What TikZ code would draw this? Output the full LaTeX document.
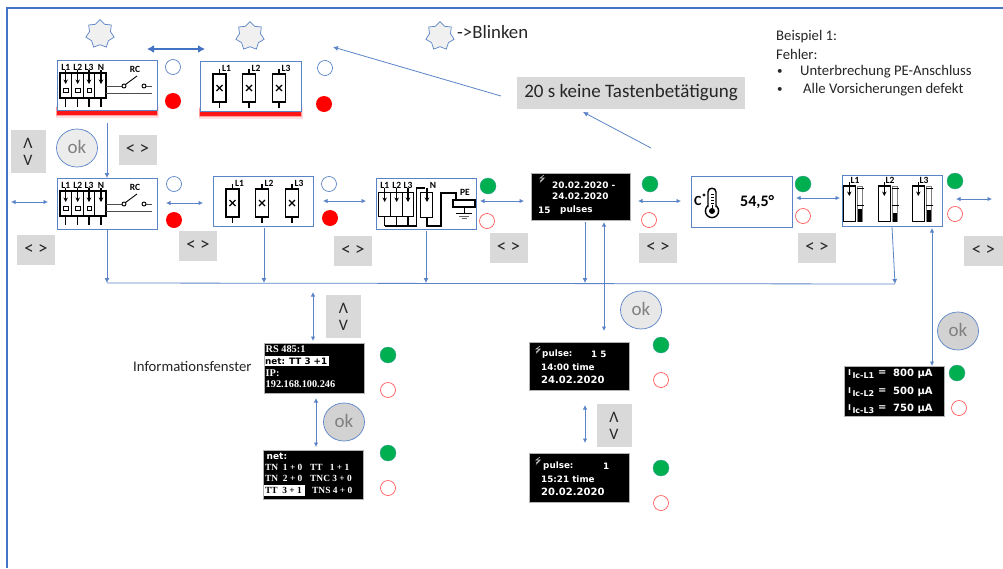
\documentclass[tikz,border=0pt]{standalone}
\usepackage{fontspec}
\setmainfont{Carlito}
\newfontfamily\dv{DejaVu Sans}
\newfontfamily\lib{Liberation Serif}
\usetikzlibrary{arrows.meta,shapes.geometric}
\definecolor{bl}{HTML}{5B84C8}
\definecolor{bld}{HTML}{4472C4}
\definecolor{gr}{HTML}{D9D9D9}
\definecolor{grn}{HTML}{00B050}
\definecolor{rd}{HTML}{FF0000}
\definecolor{ord}{HTML}{FF5B5B}
\definecolor{txt}{HTML}{262626}
\tikzset{
 panel/.style={draw=bl,line width=.8pt,fill=white,minimum width=100pt,minimum height=50pt,inner sep=0,outer sep=0},
 blackp/.style={fill=black,draw=gray!60,line width=.4pt,minimum width=100pt,minimum height=48pt,inner sep=0,outer sep=0},
 lrbox/.style={fill=gr,minimum width=38pt,minimum height=30pt,inner sep=0,font=\fontsize{19}{19}\selectfont,text=txt},
 udbox/.style={fill=gr,minimum width=35pt,minimum height=43pt,inner sep=0,align=center,font=\fontsize{16}{17}\selectfont,text=txt},
 okb/.style={ellipse,draw=bl,line width=.7pt,minimum width=41pt,minimum height=38pt,inner sep=0,text=gray,font=\fontsize{19}{19}\selectfont},
 ledopen/.style={circle,draw=bl,line width=.7pt,fill=white,minimum size=15pt,inner sep=0},
 ledred/.style={circle,fill=rd,minimum size=16pt,inner sep=0},
 ledgreen/.style={circle,fill=grn,draw=bl!60!grn,line width=.3pt,minimum size=16pt,inner sep=0},
 ledoff/.style={circle,draw=ord,line width=.7pt,fill=white,minimum size=15pt,inner sep=0},
 stern/.style={star,star points=7,star point ratio=1.35,draw=bl,line width=.7pt,fill=gray!12,minimum size=29pt,inner sep=0},
 dbl/.style={{Latex[length=4.5pt,width=4.5pt]}-{Latex[length=4.5pt,width=4.5pt]},draw=bl,line width=.8pt},
 one/.style={-{Latex[length=5pt,width=5pt]},draw=bl,line width=.8pt},
 thick2/.style={{Latex[length=7pt,width=8pt]}-{Latex[length=7pt,width=8pt]},draw=bld,line width=2.2pt},
 sym/.style={draw=black,line width=1.25pt},
 lab/.style={inner sep=0,font=\fontsize{9.5}{9.5}\selectfont\bfseries,text=black},
 tw/.style={inner sep=0,anchor=west,text=white},
 bodytext/.style={inner sep=0,anchor=west,text=txt,font=\fontsize{14.7}{14.7}\selectfont},
}
\newcommand{\arrdn}[3]{\draw[sym,-{Stealth[length=4.5pt,width=4.5pt]}] (#1,#2) -- (#1,#3);}
\newcommand{\rcsym}{%
 \draw[sym] (3,13) rectangle (49,38);
 \draw[sym] (14.6,13) -- (14.6,38) (26.6,13) -- (26.6,38) (37.6,13) -- (37.6,38);
 \foreach \x in {8.7,20.7,32}{\arrdn{\x}{10}{24}
  \draw[draw=black,line width=.5pt] (\x-2.2,28) rectangle (\x+2.2,32);
  \draw[sym] (\x,38) -- (\x,47);}
 \arrdn{44}{10}{24}\draw[sym] (44,38) -- (44,47);
 \node[lab] (a) at (8.7,7) {L1};\node[lab] (b) at (20.7,7) {L2};\node[lab] (c) at (32,7) {L3};\node[lab] (d) at (44,7) {N};
 \node[lab] (e) at (78,9) {RC};
 \draw[draw=black!70,line width=.8pt] (49,26) -- (65,26) (49,33) -- (95,33) (89,26) -- (95,26);
 \draw[draw=black,line width=.9pt] (67,26) circle (2) (87,26) circle (2) (68.5,24.5) -- (80,16);
}
\newcommand{\fusesym}{%
 \foreach \x/\l in {19.5/L1,49/L2,79/L3}{
  \draw[sym] (\x-6.5,13) rectangle (\x+6.5,41);
  \draw[sym] (\x,8) -- (\x,13) (\x,41) -- (\x,47);
  \draw[sym] (\x-3,24) -- (\x+3,30) (\x+3,24) -- (\x-3,30);
  \node[lab] (n\l) at (\x+7,7) {\l};}
}
\newcommand{\tl}[5][]{\node[tw,#1] (#2) at (#3,#4) {#5};}
\newcommand{\bolt}[2]{\draw[draw=white!75!black,line width=.6pt] (#1+3,#2) -- (#1-1,#2+3) -- (#1+3,#2+3) -- (#1-1,#2+6) (#1+3,#2+3.5) -- (#1-1,#2+7.5);}
\newcommand{\redglow}[4]{%
 \fill[rd,opacity=.12] (#1-1.5,#3-4) rectangle (#2+1.5,#4+2.5);
 \fill[rd,opacity=.3] (#1-.8,#3-3) rectangle (#2+.8,#4+1);
 \fill[rd,opacity=.85] (#1,#3) rectangle (#2,#4);}
\begin{document}
\begin{tikzpicture}[x=1pt,y=-1pt]
\useasboundingbox (0,0) rectangle (1003,568);
\fill[white] (0,0) rectangle (1003,568);
\coordinate (fa) at (7,568);\coordinate (fb) at (7,8);\coordinate (fc) at (1003,8);
\draw[draw=bld,line width=1.5pt] (fa) -- (fb) -- (fc);
\node[stern] (s1) at (100,34) {};
\node[stern] (s2) at (250,36) {};
\node[stern] (s3) at (440,36) {};
\node[inner sep=0,anchor=west,text=txt,font=\fontsize{18.8}{18.8}\selectfont] (bl) at (457,32) {->Blinken};
\node[bodytext] (e1) at (776,37) {Beispiel 1:};
\node[bodytext] (e2) at (776,54) {Fehler:};
\node[bodytext,font=\fontsize{11}{11}\selectfont] (e3) at (777,72) {•};
\node[bodytext] (e4) at (800,72) {Unterbrechung PE-Anschluss};
\node[bodytext,font=\fontsize{11}{11}\selectfont] (e5) at (777,90) {•};
\node[bodytext] (e6) at (803,90) {Alle Vorsicherungen defekt};
\node[fill=gr,minimum width=228pt,minimum height=32pt,inner sep=0,text=txt,font=\fontsize{19}{19}\selectfont] (tb) at (631,93) {20 s keine Tastenbetätigung};
\redglow{57}{157}{110}{115}
\redglow{200}{301}{111}{116}
\node[panel] (rct) at (107,85) {};
\node[panel,minimum width=101pt] (fut) at (250.5,86) {};
\begin{scope}[shift={(57,60)}]\rcsym\end{scope}
\begin{scope}[shift={(200,61)}]\fusesym\end{scope}
\node[panel,minimum height=51pt] (rc2) at (107,203.5) {};
\node[panel] (fu2) at (263,201) {};
\node[panel,minimum height=51pt] (pe2) at (426,203.5) {};
\node[blackp,minimum width=99pt,minimum height=47pt] (pu2) at (580.5,196.5) {};
\node[panel,minimum width=101pt,minimum height=51pt] (te2) at (741.5,201.5) {};
\node[panel,minimum height=51pt] (ic2) at (892,200.5) {};
\begin{scope}[shift={(57,178)}]\rcsym\end{scope}
\begin{scope}[shift={(213,176)}]\fusesym\end{scope}
\begin{scope}[shift={(376,178)}]
 \draw[sym] (2.5,14.7) rectangle (37.5,38.5);
 \draw[sym] (14.7,14.7) -- (14.7,38.5) (26.3,14.7) -- (26.3,38.5);
 \foreach \x in {8.7,20.7,32}{\arrdn{\x}{10}{24}\draw[sym] (\x,38.5) -- (\x,48);}
 \draw[sym] (8.7,48) -- (40.7,48) -- (40.7,10) -- (49,10);
 \draw[sym] (44.7,14.7) rectangle (56.7,39.3);
 \arrdn{51}{10}{24}
 \draw[sym] (51,39.3) -- (51,48) -- (65,48) -- (65,15) -- (80,15) -- (80,22);
 \draw[sym] (77,22) rectangle (99,29);
 \draw[draw=black,line width=.8pt] (88,29) -- (88,35) (80,35) -- (96,35);
 \draw[draw=black!60,line width=.6pt] (83,38) -- (93,38) (85.5,40.5) -- (90.5,40.5);
 \node[lab] (p1) at (8.7,7) {L1};\node[lab] (p2) at (20.7,7) {L2};\node[lab] (p3) at (32,7) {L3};\node[lab] (p4) at (57,7) {N};\node[lab] (p5) at (89,14) {PE};
\end{scope}
\bolt{541}{175}
\tl{q1}{552}{185}{\dv\bfseries\fontsize{8.9}{9}\selectfont 20.02.2020 -}
\tl{q2}{552}{196}{\dv\bfseries\fontsize{8.9}{9}\selectfont 24.02.2020}
\tl{q3}{538}{210}{\dv\bfseries\fontsize{8.9}{9}\selectfont 15}
\tl{q4}{560}{210}{\dv\bfseries\fontsize{8.9}{9}\selectfont pulses}
\node[inner sep=0,anchor=west,text=black,font=\fontsize{14}{14}\selectfont\bfseries] (c1) at (694,201) {C};
\draw[draw=black,line width=.7pt] (704,195) circle (1.2);
\draw[draw=black,line width=1.4pt,fill=white] (712,211) circle (6.6);
\draw[draw=black,line width=1.4pt,fill=white] (708,207) -- (708,192) .. controls (708,187) and (716,187) .. (716,192) -- (716,207);
\fill[white] (709,204) rectangle (715,209);
\draw[draw=black,line width=.5pt] (711,194) -- (713.5,194) (711,197) -- (713.5,197) (711,200) -- (713.5,200) (711,203) -- (713.5,203) (712,205) -- (712,210);
\fill[black] (712,211) circle (3);
\node[inner sep=0,anchor=west,text=black,font=\fontsize{16}{16}\selectfont\bfseries] (c2) at (740,202) {54,5°};
\foreach \o/\f/\l in {0/209/L1,35/213/L2,69/210/L3}{
 \draw[sym] (843.5+\o,186) rectangle (855.5+\o,221.7);
 \arrdn{849.3+\o}{182}{196}
 \draw[draw=gray,line width=.5pt] (857.5+\o,186) rectangle (862.3+\o,221.7);
 \fill[black] (857.5+\o,\f) rectangle (862.3+\o,221.7);
 \draw[draw=black,line width=.5pt] (857+\o,205) -- (864+\o,205) (857+\o,188) -- (864+\o,188);
 \node[lab] (k\l) at (855+\o,180.7) {\l};
}
\node[lrbox] (lr1) at (137.5,150) {< >};
\node[lrbox] (lr2) at (36,250) {< >};
\node[lrbox] (lr3) at (198,245.5) {< >};
\node[lrbox] (lr4) at (353,250.5) {< >};
\node[lrbox] (lr5) at (508.5,248) {< >};
\node[lrbox] (lr6) at (658,248) {< >};
\node[lrbox] (lr7) at (817,247.5) {< >};
\node[lrbox,minimum width=39pt] (lr8) at (983.5,250.5) {< >};
\node[udbox] (ud1) at (28,151.5) {Λ\\V};
\node[udbox] (ud2) at (343.5,316.5) {Λ\\V};
\node[udbox] (ud3) at (614,425.5) {Λ\\V};
\node[okb,fill=gray!15] (ok1) at (77,148) {\raisebox{2pt}{ok}};
\node[okb,fill=gray!35] (ok2) at (344,422) {\raisebox{2pt}{ok}};
\node[okb,fill=gray!18] (ok3) at (641,310) {\raisebox{2pt}{ok}};
\node[okb,fill=gray!35] (ok4) at (958,331) {\raisebox{2pt}{ok}};
\node[ledopen] (l1) at (173,67) {};\node[ledred] (l2) at (173,101) {};
\node[ledopen] (l3) at (325,68) {};\node[ledred] (l4) at (324,104) {};
\node[ledopen] (l5) at (174,184) {};\node[ledred] (l6) at (174,220) {};
\node[ledopen] (l7) at (329,184) {};\node[ledred] (l8) at (330,218) {};
\node[ledgreen] (l9) at (488,186) {};\node[ledoff] (l10) at (487,221) {};
\node[ledgreen] (l11) at (650,184) {};\node[ledoff] (l12) at (649,220) {};
\node[ledgreen] (l13) at (803,184) {};\node[ledoff] (l14) at (803,216) {};
\node[ledgreen] (l15) at (955,181) {};\node[ledoff] (l16) at (955,214) {};
\node[ledgreen] (l17) at (388,355) {};\node[ledoff] (l18) at (388,390) {};
\node[ledgreen] (l19) at (388,453) {};\node[ledoff] (l20) at (388,488) {};
\node[ledgreen] (l21) at (661,345) {};\node[ledoff] (l22) at (661,380) {};
\node[ledgreen] (l23) at (661,468) {};\node[ledoff] (l24) at (661,503) {};
\node[ledgreen] (l25) at (957,373) {};\node[ledoff] (l26) at (959,408) {};
\node[bodytext] (inf) at (133,366) {Informationsfenster};
\node[blackp,minimum height=50pt] (i1) at (314,368) {};
\fill[white] (264.5,356) rectangle (329,365.5);
\tl{i1a}{265.5}{349}{\lib\bfseries\fontsize{10.3}{10}\selectfont RS 485:1}
\node[inner sep=0,anchor=west,text=black] (i1b) at (265,361) {\dv\bfseries\fontsize{8.8}{9}\selectfont net: TT 3 +1};
\tl{i1c}{265.5}{373}{\lib\bfseries\fontsize{10.3}{10}\selectfont IP:}
\tl{i1d}{265.5}{384.5}{\lib\bfseries\fontsize{10.3}{10}\selectfont 192.168.100.246}
\node[blackp,minimum height=49pt] (i2) at (313,474.5) {};
\fill[white] (264,485) rectangle (305,496);
\tl{i2a}{266.5}{456}{\dv\bfseries\fontsize{9}{9}\selectfont net:}
\tl{i2b}{265}{467.5}{\lib\bfseries\fontsize{9.4}{9}\selectfont TN\ \ 1 + 0}
\tl{i2c}{310}{467.5}{\lib\bfseries\fontsize{9.4}{9}\selectfont TT\ \ \ 1 + 1}
\tl{i2d}{265}{478.5}{\lib\bfseries\fontsize{9.4}{9}\selectfont TN\ \ 2 + 0}
\tl{i2e}{310}{478.5}{\lib\bfseries\fontsize{9.4}{9}\selectfont TNC 3 + 0}
\node[inner sep=0,anchor=west,text=black] (i2f) at (265,490) {\lib\bfseries\fontsize{9.4}{9}\selectfont TT\ \ 3 + 1};
\tl{i2g}{312}{490}{\lib\bfseries\fontsize{9.4}{9}\selectfont TNS 4 + 0}
\node[blackp,minimum height=48pt] (d1) at (579,366) {};
\bolt{537}{346}
\tl{d1a}{542}{354}{\dv\bfseries\fontsize{8.8}{9}\selectfont pulse:}
\tl{d1b}{591}{354}{\dv\bfseries\fontsize{8.8}{9}\selectfont 1 5}
\tl{d1c}{541}{367}{\dv\bfseries\fontsize{8.8}{9}\selectfont 14:00 time}
\tl{d1d}{541}{380}{\dv\bfseries\fontsize{10}{10}\selectfont 24.02.2020}
\node[blackp,minimum height=49pt] (d2) at (579,477.5) {};
\bolt{537}{457}
\tl{d2a}{543}{466}{\dv\bfseries\fontsize{8.8}{9}\selectfont pulse:}
\tl{d2b}{603}{466}{\dv\bfseries\fontsize{8.8}{9}\selectfont 1}
\tl{d2c}{541}{479}{\dv\bfseries\fontsize{8.8}{9}\selectfont 15:21 time}
\tl{d2d}{541}{492}{\dv\bfseries\fontsize{10}{10}\selectfont 20.02.2020}
\node[blackp,minimum height=50pt] (d3) at (894,391) {};
\foreach \n/\y/\t/\v in {a/374/1/800,b/392/2/500,c/409/3/750}{
 \tl{d3\n}{848}{\y}{\dv\bfseries\fontsize{8}{8}\selectfont I\raisebox{-3pt}{\,Ic-L\t}}
 \tl{d3e\n}{878}{\y-1}{\dv\bfseries\fontsize{10}{10}\selectfont =}
 \tl{d3f\n}{893}{\y}{\dv\bfseries\fontsize{10}{10}\selectfont \v\ µA}
}
\coordinate (ta) at (147,49);\coordinate (tbb) at (205,49);
\draw[thick2] (ta) -- (tbb);
\coordinate (tin) at (333,47);\coordinate (tstart) at (501,96);
\draw[one] (tstart) -- (tin);
\coordinate (tc) at (651,148);\coordinate (td) at (583,112);
\draw[one] (tc) -- (td);
\coordinate (dn) at (107,123);
\draw[one] (dn) -- (rc2.north);
\coordinate (h0a) at (11,202);\coordinate (h0b) at (48,202);\draw[dbl] (h0a) -- (h0b);
\coordinate (h1a) at (166,203);\coordinate (h1b) at (203,203);\draw[dbl] (h1a) -- (h1b);
\coordinate (h2a) at (323,201);\coordinate (h2b) at (366,201);\draw[dbl] (h2a) -- (h2b);
\coordinate (h3a) at (480,201);\coordinate (h3b) at (524,201);\draw[dbl] (h3a) -- (h3b);
\coordinate (h4a) at (638,201);\coordinate (h4b) at (681,201);\draw[dbl] (h4a) -- (h4b);
\coordinate (h5a) at (796,198);\coordinate (h5b) at (840,198);\draw[dbl] (h5a) -- (h5b);
\coordinate (h6a) at (956,199);\coordinate (h6b) at (992,199);\draw[dbl] (h6a) -- (h6b);
\coordinate (busL) at (107,283);\coordinate (busR) at (895,284);
\draw[draw=bl,line width=.8pt] (busL) -- (busR);
\draw[one] (rc2.south) -- (busL);
\coordinate (b2) at (264,283);\coordinate (b3) at (426,283);\coordinate (b4) at (585,283);
\coordinate (u2) at (264,228);\coordinate (u3) at (426,231);\coordinate (u4) at (585,222);\coordinate (u5) at (892,227);
\draw[one] (u2) -- (b2);
\draw[one] (u3) -- (b3);
\draw[one] (u4) -- (b4);
\draw[one] (u5) -- (busR);
\coordinate (v1) at (604,222);\coordinate (v2) at (604,331);\draw[dbl] (v1) -- (v2);
\coordinate (v3) at (932,228);\coordinate (v4) at (932,366);\draw[dbl] (v3) -- (v4);
\coordinate (v5) at (313,292);\coordinate (v6) at (313,341);\draw[dbl] (v5) -- (v6);
\coordinate (v7) at (316,398);\coordinate (v8) at (316,447);\draw[dbl] (v7) -- (v8);
\coordinate (v9) at (585,405);\coordinate (v10) at (585,443);\draw[dbl] (v9) -- (v10);
\end{tikzpicture}
\end{document}
